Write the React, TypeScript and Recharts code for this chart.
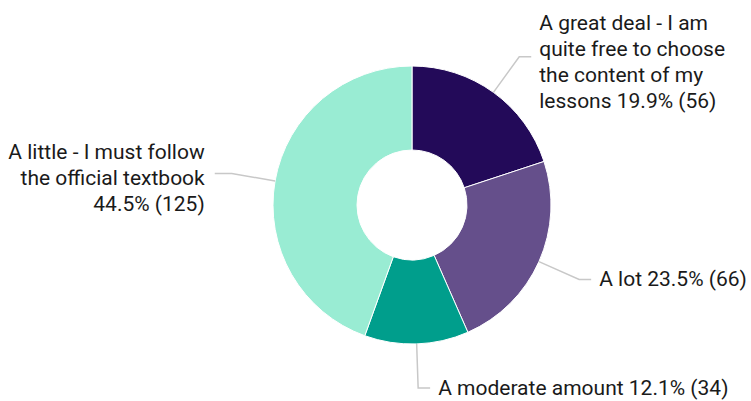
import { PieChart, Pie, Cell } from 'recharts';

const categories = [
  'A great deal - I am quite free to choose the content of my lessons',
  'A lot',
  'A moderate amount',
  'A little - I must follow the official textbook',
];
const counts = [56, 66, 34, 125];
// how each label wraps; {v} is replaced by "pct% (count)"
const labelLines = [
  ['A great deal - I am', 'quite free to choose', 'the content of my', 'lessons {v}'],
  ['A lot {v}'],
  ['A moderate amount {v}'],
  ['A little - I must follow', 'the official textbook', '{v}'],
];
const COLORS = ['#230a59', '#654f8b', '#009e8c', '#99ecd3'];

const total = counts.reduce((a, b) => a + b, 0);
const data = categories.map((name, i) => ({ name, value: counts[i], lines: labelLines[i] }));

const RADIAN = Math.PI / 180;
const FONT = 'Roboto, "Noto Sans", sans-serif';

function renderLabel(props: any) {
  const { cx, cy, midAngle, outerRadius, payload, value } = props;
  const cos = Math.cos(-midAngle * RADIAN);
  const sin = Math.sin(-midAngle * RADIAN);
  const sx = cx + outerRadius * cos;
  const sy = cy + outerRadius * sin;
  const mx = cx + (outerRadius + 44) * cos;
  const my = cy + (outerRadius + 44) * sin;
  const right = cos >= 0;
  const ex = mx + (right ? 12 : -17);
  const tx = ex + (right ? 8 : -10);
  const v = `${((value / total) * 100).toFixed(1)}% (${value})`;
  const lines: string[] = payload.lines.map((l: string) => l.replace('{v}', v));
  const lh = 26;
  const offset = lines.length > 1 ? 5 : 0;
  const firstY = my + offset - ((lines.length - 1) * lh) / 2;
  return (
    <g>
      <polyline
        points={`${sx},${sy} ${mx},${my} ${ex},${my}`}
        fill="none"
        stroke="#c8c8c8"
        strokeWidth={1.5}
      />
      <text
        x={tx}
        y={firstY}
        textAnchor={right ? 'start' : 'end'}
        dominantBaseline="central"
        fill="#1a1a1a"
        fontSize={21}
        fontFamily={FONT}
      >
        {lines.map((l, i) => (
          <tspan key={i} x={tx} y={firstY + i * lh}>
            {l}
          </tspan>
        ))}
      </text>
    </g>
  );
}

export default function App() {
  return (
    <div style={{ position: 'absolute', left: 0, top: 0, background: '#fff' }}>
      <PieChart width={751} height={401} margin={{ top: 0, right: 0, bottom: 0, left: 0 }}>
        <Pie
          data={data}
          dataKey="value"
          nameKey="name"
          cx={412}
          cy={205}
          innerRadius={55}
          outerRadius={139}
          startAngle={90}
          endAngle={-270}
          stroke="#ffffff"
          strokeWidth={1}
          label={renderLabel}
          labelLine={false}
          isAnimationActive={false}
        >
          {data.map((_, i) => (
            <Cell key={`cell-${i}`} fill={COLORS[i]} />
          ))}
        </Pie>
      </PieChart>
    </div>
  );
}
